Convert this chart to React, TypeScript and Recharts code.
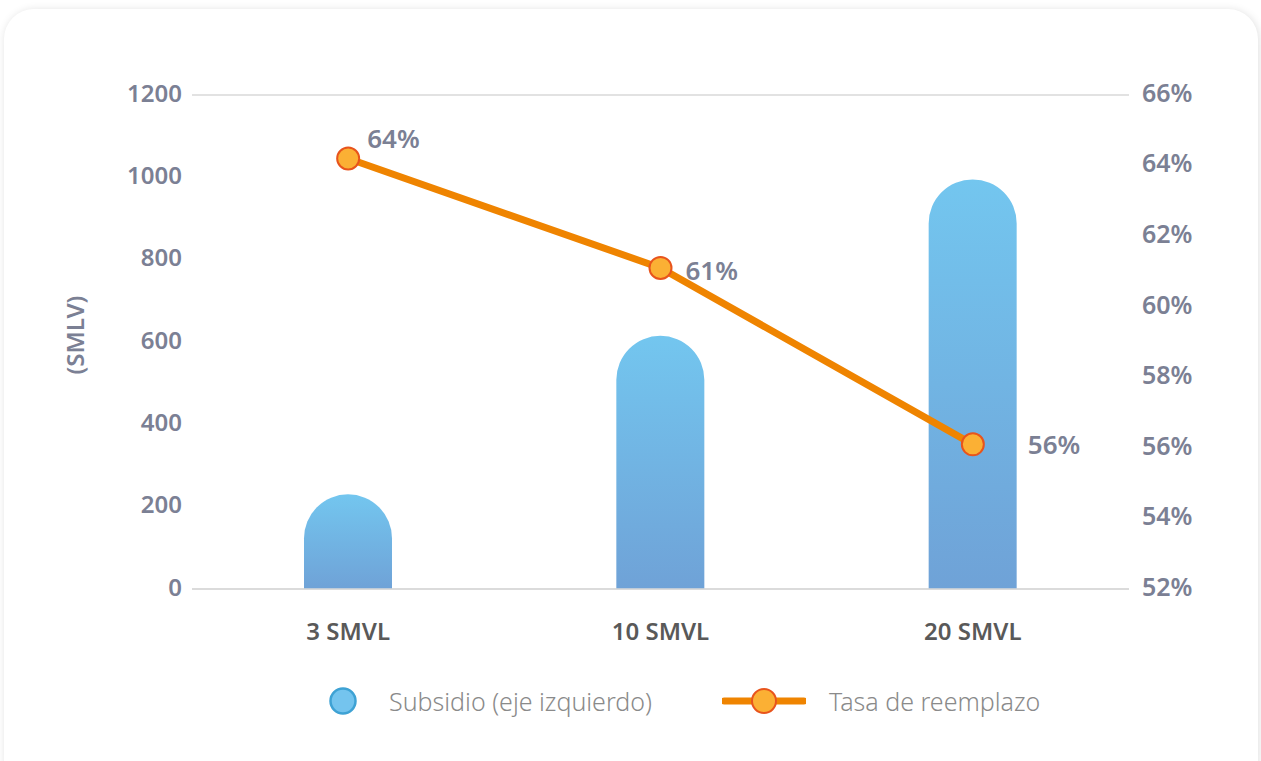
import {
  ComposedChart,
  Bar,
  Line,
  XAxis,
  YAxis,
  CartesianGrid,
  LabelList,
  Label,
} from "recharts";

const categories = ["3 SMVL", "10 SMVL", "20 SMVL"];
const subsidio = [230, 615, 995];
const tasa = [64.2, 61.1, 56.1];
const leftTicks = [0, 200, 400, 600, 800, 1000, 1200];
const rightTicks = [52, 54, 56, 58, 60, 62, 64, 66];

const data = categories.map((c, i) => ({ name: c, subsidio: subsidio[i], tasa: tasa[i] }));

const FONT = "'Noto Sans', 'Open Sans', sans-serif";
const TICK_GRAY = "#7b8094";

// where each percentage sits relative to its dot
const labelShift = [
  { dx: 19, dy: -20 },
  { dx: 25, dy: 3 },
  { dx: 55, dy: 1 },
];

function PctLabel(props: any) {
  const { x, y, value, index } = props;
  const s = labelShift[index] || { dx: 20, dy: 0 };
  return (
    <text
      x={x + s.dx}
      y={y + s.dy}
      dy="0.35em"
      fill={TICK_GRAY}
      fontSize={26}
      fontWeight={600}
      fontFamily={FONT}
      textAnchor="start"
    >
      {`${Math.round(value)}%`}
    </text>
  );
}

function ChartLegend() {
  return (
    <div
      style={{
        position: "absolute",
        top: 684,
        left: 328,
        display: "flex",
        alignItems: "center",
        fontFamily: FONT,
        fontWeight: 300,
        fontSize: 25,
        color: "#8a8a8a",
        whiteSpace: "nowrap",
      }}
    >
      <div style={{ display: "flex", alignItems: "center" }}>
        <svg width={30} height={30}>
          <circle cx={15} cy={15} r={12.5} fill="#74c4ee" stroke="#3ea2d4" strokeWidth={2.5} />
        </svg>
        <span style={{ marginLeft: 31 }}>Subsidio (eje izquierdo)</span>
      </div>
      <div style={{ display: "flex", alignItems: "center", marginLeft: 70 }}>
        <svg width={84} height={30}>
          <line x1={2} y1={15} x2={82} y2={15} stroke="#ef8400" strokeWidth={7} strokeLinecap="round" />
          <circle cx={42} cy={15} r={12} fill="#fbb034" stroke="#e8541c" strokeWidth={2} />
        </svg>
        <span style={{ marginLeft: 23 }}>Tasa de reemplazo</span>
      </div>
    </div>
  );
}

export default function App() {
  return (
    <div style={{ position: "absolute", top: 0, left: 0, width: 1261, height: 761, background: "#ffffff", overflow: "hidden" }}>
      <div
        style={{
          position: "absolute",
          top: 9,
          left: 4,
          width: 1254,
          height: 780,
          borderRadius: 30,
          background: "#ffffff",
          boxShadow: "1px 1px 8px rgba(0,0,0,0.13)",
        }}
      />
      <div style={{ position: "absolute", top: 0, left: 0 }}>
        <ComposedChart width={1261} height={761} data={data} margin={{ top: 95, right: 0, bottom: 0, left: 0 }}>
          <defs>
            <linearGradient id="barGrad" x1="0" y1="0" x2="0" y2="1">
              <stop offset="0%" stopColor="#73c6ef" />
              <stop offset="100%" stopColor="#6fa2d7" />
            </linearGradient>
          </defs>
          <CartesianGrid vertical={false} stroke="#d9d9d9" strokeWidth={1.5} />
          <XAxis
            dataKey="name"
            height={172}
            axisLine={{ stroke: "#d9d9d9", strokeWidth: 1.5 }}
            tickLine={false}
            tickMargin={28}
            tick={{ fill: "#595959", fontSize: 24, fontWeight: 600, fontFamily: FONT }}
          />
          <YAxis
            yAxisId="left"
            width={192}
            domain={[0, 1200]}
            ticks={leftTicks}
            axisLine={false}
            tickLine={false}
            tickMargin={4}
            tick={{ fill: TICK_GRAY, fontSize: 24, fontWeight: 600, fontFamily: FONT, dy: -2 }}
          >
            <Label
              value="(SMLV)"
              angle={-90}
              position="center"
              dx={-21}
              dy={-7}
              fill={TICK_GRAY}
              fontSize={24}
              fontWeight={600}
              fontFamily={FONT}
            />
          </YAxis>
          <YAxis
            yAxisId="right"
            orientation="right"
            width={132}
            domain={[52, 66]}
            ticks={rightTicks}
            axisLine={false}
            tickLine={false}
            tickMargin={7}
            tickFormatter={(v) => `${v}%`}
            tick={{ fill: TICK_GRAY, fontSize: 25, fontWeight: 600, fontFamily: FONT, textAnchor: "start", dy: -2 }}
          />
          <Bar
            yAxisId="left"
            dataKey="subsidio"
            barSize={88}
            fill="url(#barGrad)"
            radius={[44, 44, 0, 0]}
            isAnimationActive={false}
          />
          <Line
            yAxisId="right"
            dataKey="tasa"
            stroke="#ef8400"
            strokeWidth={7}
            dot={{ r: 11, fill: "#fbb034", stroke: "#e8541c", strokeWidth: 2 }}
            activeDot={false}
            isAnimationActive={false}
          >
            <LabelList dataKey="tasa" content={PctLabel} />
          </Line>
        </ComposedChart>
      </div>
      <ChartLegend />
    </div>
  );
}
